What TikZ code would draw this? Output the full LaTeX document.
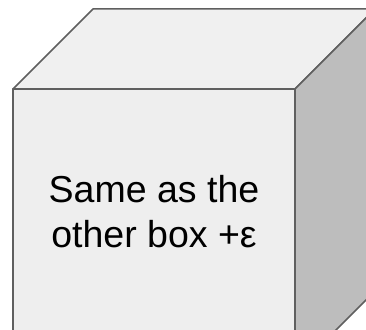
\documentclass[tikz,border=0pt]{standalone}
\usepackage{fontspec}
\setmainfont{Liberation Sans}
\definecolor{frontc}{HTML}{EEEEEE}
\definecolor{topc}{HTML}{F0F0F0}
\definecolor{sidec}{HTML}{BDBDBD}
\definecolor{edgec}{HTML}{5F5F5F}
\tikzset{face/.style={draw=edgec, line width=1.5pt, line join=round}}
\begin{document}
\begin{tikzpicture}[x=1pt,y=-1pt]
\useasboundingbox (0,0) rectangle (366,329);
\clip (0,0) rectangle (366,329);
\coordinate (fa) at (13,89);
\coordinate (fb) at (295,89);
\coordinate (fc) at (295,371);
\coordinate (fd) at (13,371);
\coordinate (ba) at (93,9);
\coordinate (bb) at (375,9);
\coordinate (bc) at (375,291);
\fill[white] (0,0) rectangle (366,329);
\draw[face, fill=topc] (fa) -- (ba) -- (bb) -- (fb) -- cycle;
\draw[face, fill=sidec] (fb) -- (bb) -- (bc) -- (fc) -- cycle;
\draw[face, fill=frontc] (fa) -- (fb) -- (fc) -- (fd) -- cycle;
\node[align=center, font=\fontsize{37.5}{45}\selectfont, inner sep=0pt] (label) at (154,212) {Same as the\\other box +ε};
\end{tikzpicture}
\end{document}
